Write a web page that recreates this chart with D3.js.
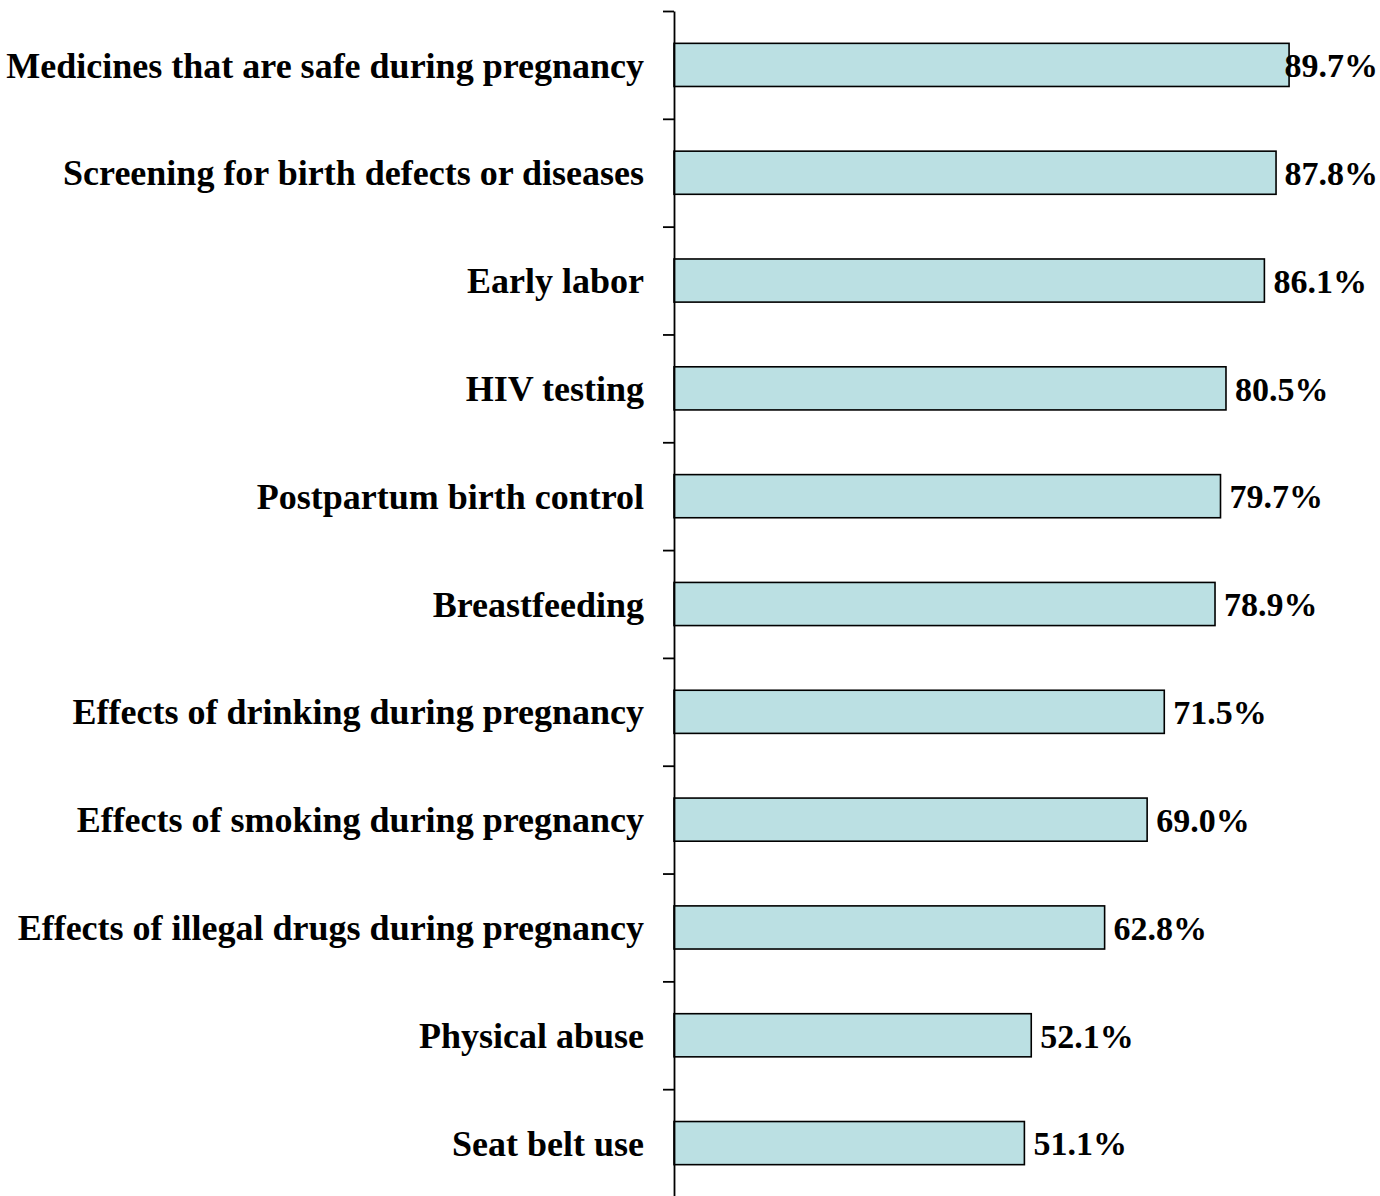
<!DOCTYPE html>
<html>
<head>
<meta charset="utf-8">
<script src="https://cdn.jsdelivr.net/npm/d3@7"></script>
<style>
  html, body { margin: 0; padding: 0; background: #fff; }
  svg { display: block; }
</style>
</head>
<body>
<svg id="chart" width="1380" height="1196"></svg>
<script>
const categories = [
  "Medicines that are safe during pregnancy",
  "Screening for birth defects or diseases",
  "Early labor",
  "HIV testing",
  "Postpartum birth control",
  "Breastfeeding",
  "Effects of drinking during pregnancy",
  "Effects of smoking during pregnancy",
  "Effects of illegal drugs during pregnancy",
  "Physical abuse",
  "Seat belt use"
];
const values = [89.7, 87.8, 86.1, 80.5, 79.7, 78.9, 71.5, 69.0, 62.8, 52.1, 51.1];
const xDomain = [0, 100];

const W = 1380, H = 1196;
const margin = { left: 674, right: 20, top: 11, bottom: -1 };
const svg = d3.select("#chart");

const x = d3.scaleLinear().domain(xDomain).range([margin.left, margin.left + 685.7]);
const y = d3.scaleBand().domain(categories).range([margin.top, H - margin.bottom]).paddingInner(0.6).paddingOuter(0.3);

const fontFamily = "'Liberation Serif', 'Times New Roman', serif";

// bars
svg.append("g").selectAll("rect")
  .data(categories)
  .join("rect")
  .attr("x", x(0))
  .attr("y", d => y(d))
  .attr("width", (d, i) => x(values[i]) - x(0))
  .attr("height", y.bandwidth())
  .attr("fill", "#BBE0E3")
  .attr("stroke", "#000")
  .attr("stroke-width", 1.6);

// axis with ticks at band boundaries
const boundary = d3.scaleLinear().domain([0, categories.length]).range(y.range());
const axis = d3.axisLeft(boundary)
  .tickValues(d3.range(0, categories.length + 1))
  .tickSize(11)
  .tickSizeOuter(0)
  .tickFormat("");
const ag = svg.append("g").attr("transform", `translate(${x(0)},0)`).call(axis);
ag.selectAll("path, line").attr("stroke", "#000").attr("stroke-width", 1.8);

// category labels
svg.append("g").selectAll("text")
  .data(categories)
  .join("text")
  .attr("x", x(0) - 30)
  .attr("y", d => y(d) + y.bandwidth() / 2)
  .attr("dy", "0.35em")
  .attr("text-anchor", "end")
  .attr("font-family", fontFamily)
  .attr("font-weight", "bold")
  .attr("font-size", 36)
  .attr("fill", "#000")
  .text(d => d);

// value labels
const vl = svg.append("g").selectAll("text")
  .data(categories)
  .join("text")
  .attr("y", d => y(d) + y.bandwidth() / 2)
  .attr("dy", "0.36em")
  .attr("font-family", fontFamily)
  .attr("font-weight", "bold")
  .attr("font-size", 34)
  .attr("fill", "#000")
  .text((d, i) => values[i].toFixed(1) + "%");
vl.each(function(d, i) {
  const w = this.getComputedTextLength();
  const px = Math.min(x(values[i]) + 9, W - 2 - w);
  d3.select(this).attr("x", px);
});
</script>
</body>
</html>
